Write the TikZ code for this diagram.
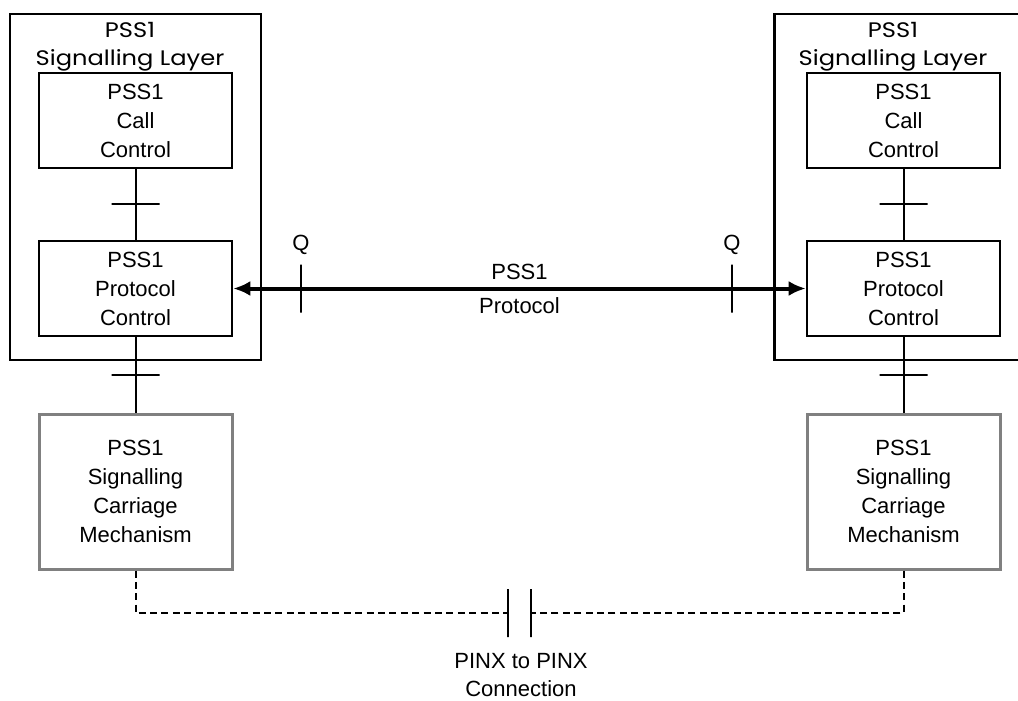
\documentclass[tikz,border=0pt]{standalone}
\usepackage{fontspec}
\setmainfont{Liberation Sans}
\newfontfamily\layerfont[FakeStretch=1.15]{Poppins}
\usetikzlibrary{arrows.meta}

\begin{document}
\begin{tikzpicture}[x=0.5pt,y=-0.5pt,font=\fontsize{11}{14.5}\selectfont,
	block/.style={draw,line width=1.3pt,minimum width=96.5pt,minimum height=47.5pt,inner sep=0pt,align=center},
	carriage/.style={block,draw=gray,line width=1.5pt,minimum height=77.5pt},
	layer/.style={draw,line width=1.3pt,minimum width=125.5pt,minimum height=173pt},
	layertext/.style={align=center,font=\layerfont\fontsize{10.5}{14}\selectfont},
	wire/.style={line width=1pt},
	crossbar/.style={draw,line width=1pt,minimum width=24pt,minimum height=0pt,inner sep=0pt},
	qbar/.style={draw,line width=1pt,minimum width=0pt,minimum height=24pt,inner sep=0pt},
	link/.style={line width=1pt,dash pattern=on 3.5pt off 2.2pt}]
\useasboundingbox (0,0) rectangle (1018,701);
\clip (0,0) rectangle (1018,701);
% left side
\node[layer] (layerL) at (135.5,187) {};
\node[layertext] (titleL) at (130,47) {PSS1\\Signalling Layer};
\node[block] (callL) at (135.5,120.5) {PSS1\\Call\\Control};
\node[block] (protoL) at (135.5,288.5) {PSS1\\Protocol\\Control};
\node[carriage] (carL) at (135.5,491.5) {PSS1\\Signalling\\Carriage\\Mechanism};
% right side
\node[layer] (layerR) at (900,187) {};
\node[layertext] (titleR) at (893,47) {PSS1\\Signalling Layer};
\node[block] (callR) at (903.5,120.5) {PSS1\\Call\\Control};
\node[block] (protoR) at (903.5,288.5) {PSS1\\Protocol\\Control};
\node[carriage] (carR) at (903.5,491.5) {PSS1\\Signalling\\Carriage\\Mechanism};
% interfaces
\draw[wire] (callL) -- node[crossbar]{} (protoL);
\draw[wire] (protoL) -- node[crossbar]{} (carL);
\draw[wire] (callR) -- node[crossbar]{} (protoR);
\draw[wire] (protoR) -- node[crossbar]{} (carR);
% peer protocol
\draw[line width=2pt,{Latex[length=8.5pt,width=7.5pt]}-{Latex[length=8.5pt,width=7.5pt]}] (protoL.east) --
	node[pos=0.118,qbar,label=above:Q] (qL) {}
	node[midway,above] (protoname) {PSS1}
	node[midway,below] {Protocol}
	node[pos=0.871,qbar,label=above:Q] (qR) {} (protoR.west);
% physical connection
\node[qbar] (plateL) at (508,613) {};
\node[qbar] (plateR) at (531,613) {};
\draw[link] (carL.south) |- (plateL);
\draw[link] (carR.south) |- (plateR);
\node[align=center,font=\fontsize{11}{14}\selectfont] (pinx) at (521,675) {PINX to PINX\\Connection};
\end{tikzpicture}
\end{document}
